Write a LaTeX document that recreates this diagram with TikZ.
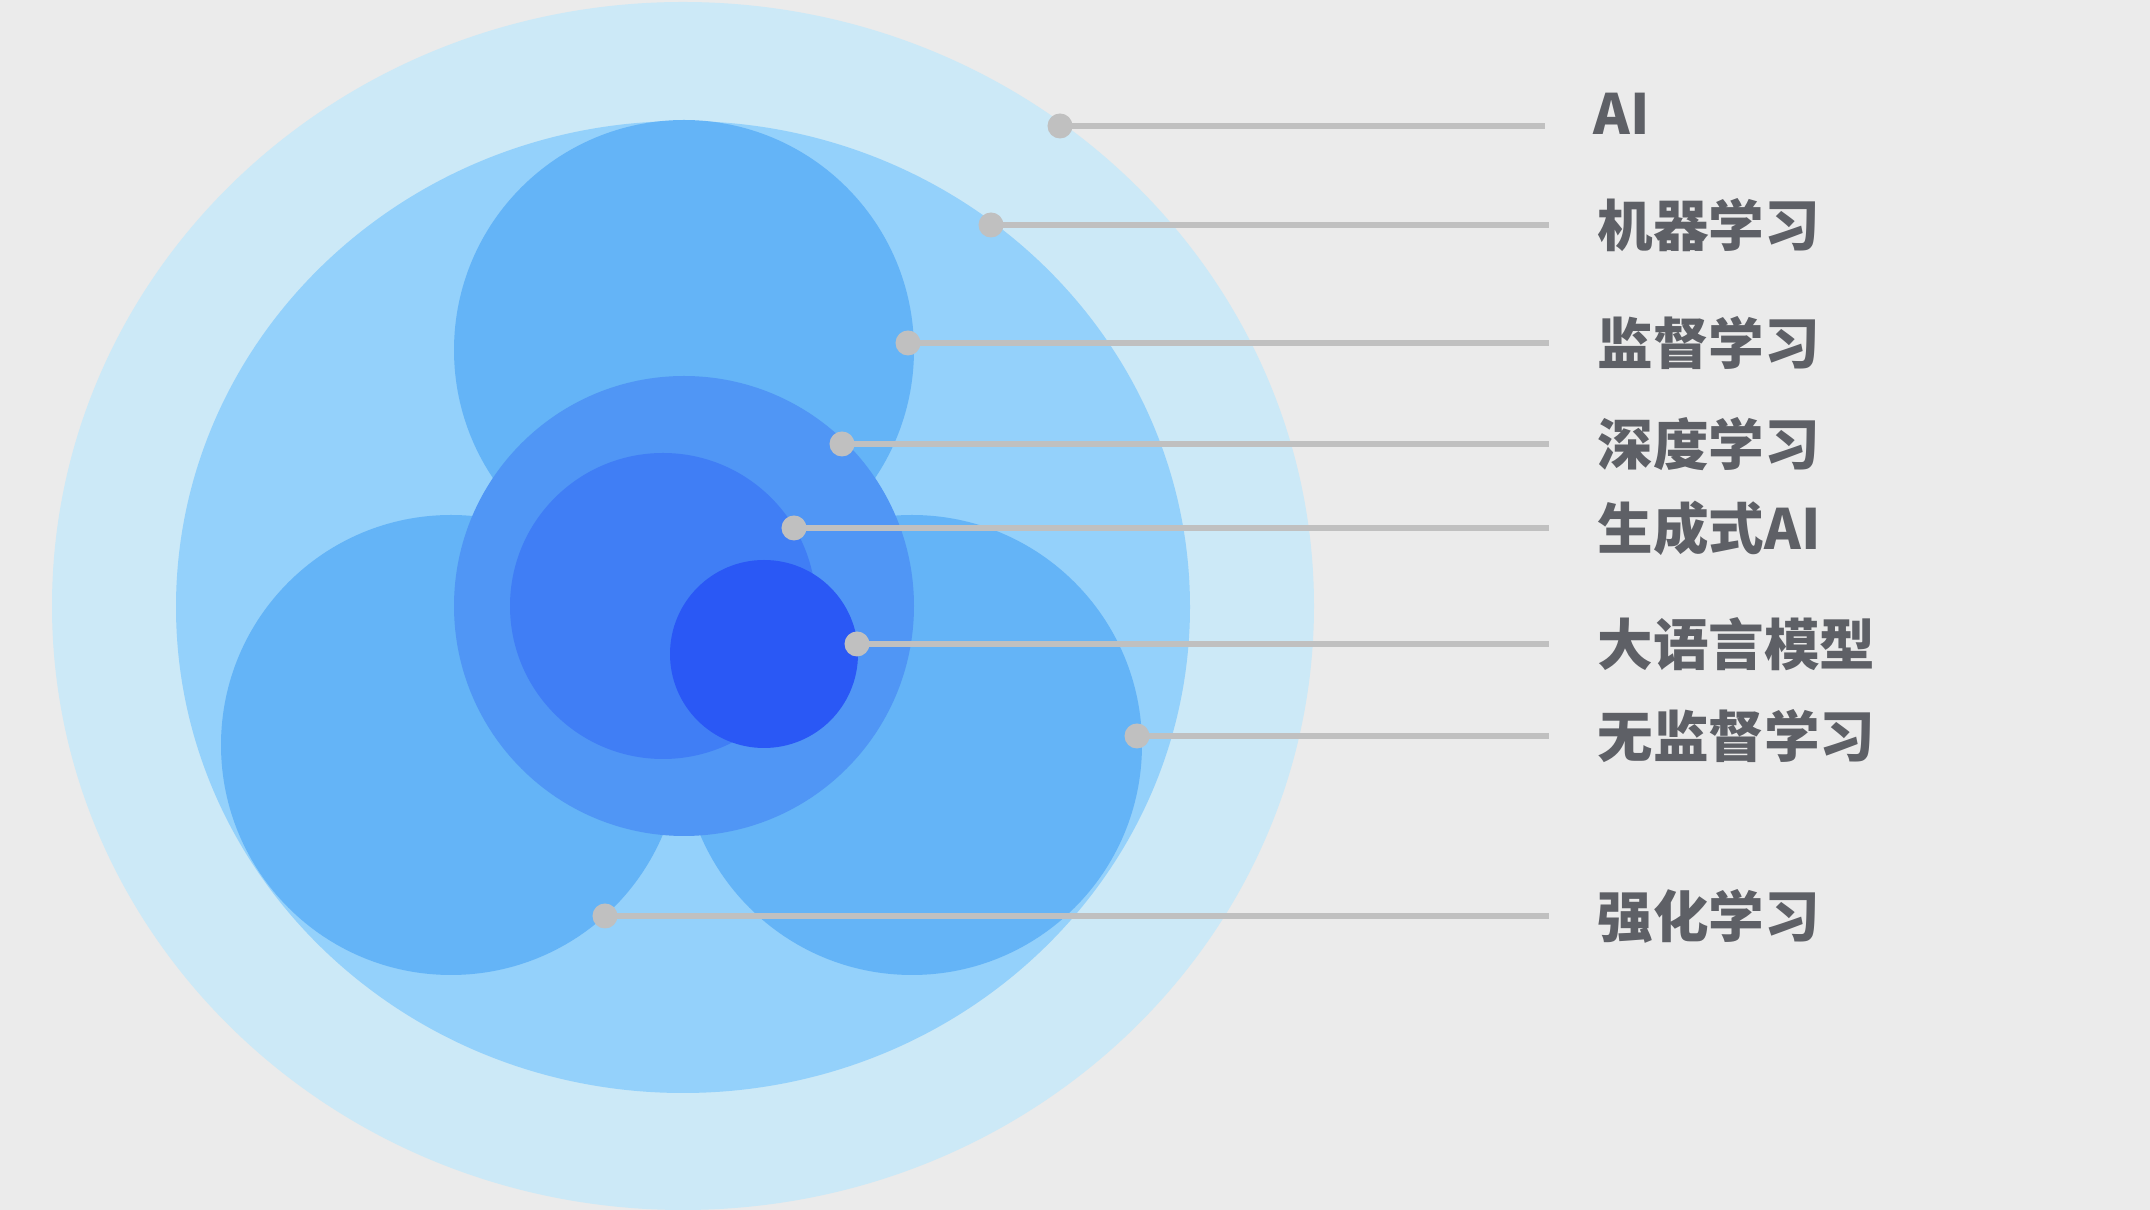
\documentclass[tikz,border=0pt]{standalone}
\usepackage{fontspec}
\newfontfamily\cjk{Noto Sans CJK SC}
\usetikzlibrary{positioning}
\definecolor{bgcol}{HTML}{EBEBEB}
\definecolor{aicol}{HTML}{CCE9F7}
\definecolor{mlcol}{HTML}{94D1FB}
\definecolor{subcol}{HTML}{64B4F7}
\definecolor{dlcol}{HTML}{5096F5}
\definecolor{gencol}{HTML}{407EF5}
\definecolor{llmcol}{HTML}{2A58F5}
\definecolor{leadcol}{HTML}{C0C0C0}
\definecolor{labcol}{HTML}{5E6066}

\begin{document}
\begin{tikzpicture}[x=0.01cm,y=-0.01cm,
  dot/.style={circle,fill=leadcol,inner sep=0pt,minimum size=0.25cm},
  lead/.style={leadcol,line width=1.85pt},
  lbl/.style={text=labcol,inner sep=0pt,
    font=\cjk\bfseries\fontsize{15.8}{19}\selectfont}]
% background and frame
\fill[bgcol] (0,0) rectangle (2150,1210);
\useasboundingbox (0,0) rectangle (2150,1210);
\clip (0,0) rectangle (2150,1210);
% nested sets
\fill[aicol] (683,606) ellipse [x radius=631, y radius=604];
\fill[mlcol] (683,607) ellipse [x radius=507, y radius=486];
\fill[subcol] (684,350) circle [radius=230];
\fill[subcol] (451,745) circle [radius=230];
\fill[subcol] (912,745) circle [radius=230];
\fill[dlcol] (684,606) circle [radius=230];
\fill[gencol] (663,606) circle [radius=153];
\fill[llmcol] (764,654) circle [radius=94];
% leader dots and line ends
\node[dot] (dAI) at (1060,126) {};
\node[dot] (dML) at (991,225) {};
\node[dot] (dSup) at (908,343) {};
\node[dot] (dDL) at (842,444) {};
\node[dot] (dGen) at (794,528) {};
\node[dot] (dLLM) at (857,644) {};
\node[dot] (dUns) at (1137,736) {};
\node[dot] (dRL) at (605,916) {};
\coordinate (eAI) at (1545,126);
\coordinate (eML) at (1549,225);
\coordinate (eSup) at (1549,343);
\coordinate (eDL) at (1549,444);
\coordinate (eGen) at (1549,528);
\coordinate (eLLM) at (1549,644);
\coordinate (eUns) at (1549,736);
\coordinate (eRL) at (1549,916);
% leader lines
\draw[lead] (dAI.center) -- (eAI);
\draw[lead] (dML.center) -- (eML);
\draw[lead] (dSup.center) -- (eSup);
\draw[lead] (dDL.center) -- (eDL);
\draw[lead] (dGen.center) -- (eGen);
\draw[lead] (dLLM.center) -- (eLLM);
\draw[lead] (dUns.center) -- (eUns);
\draw[lead] (dRL.center) -- (eRL);
% labels
\node[lbl,right=0.48cm of eAI,yshift=0.12cm] (tAI) {AI};
\node[lbl,right=0.48cm of eML] (tML) {机器学习};
\node[lbl,right=0.48cm of eSup] (tSup) {监督学习};
\node[lbl,right=0.48cm of eDL] (tDL) {深度学习};
\node[lbl,right=0.48cm of eGen] (tGen) {生成式AI};
\node[lbl,right=0.48cm of eLLM] (tLLM) {大语言模型};
\node[lbl,right=0.48cm of eUns] (tUns) {无监督学习};
\node[lbl,right=0.48cm of eRL] (tRL) {强化学习};
\end{tikzpicture}
\end{document}
